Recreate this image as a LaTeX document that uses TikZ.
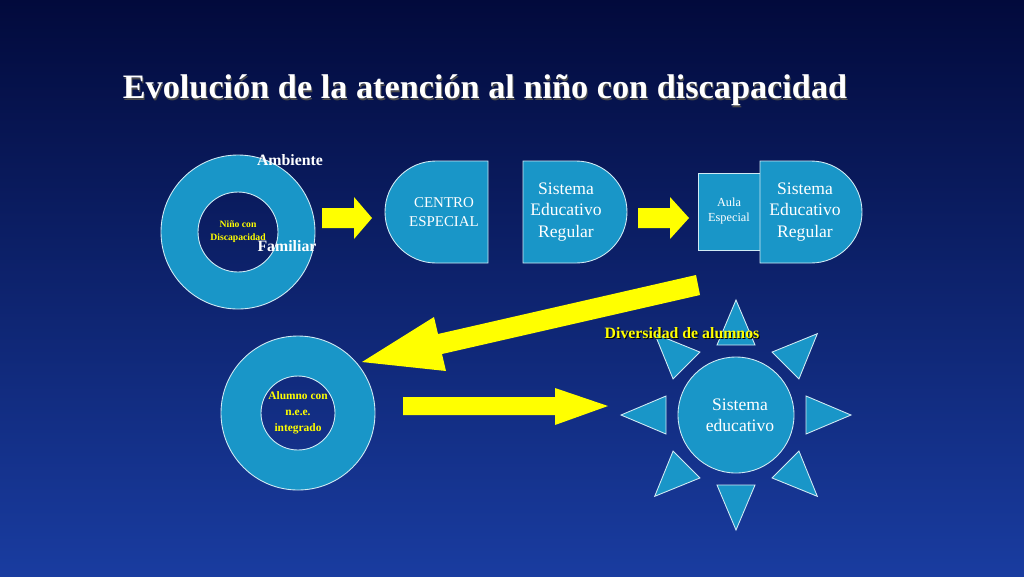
\documentclass[tikz,border=0pt]{standalone}
\usepackage{fontspec}
\setmainfont{Liberation Serif}
\usetikzlibrary{positioning,calc}
\definecolor{bgtop}{RGB}{2,10,60}
\definecolor{bgbot}{RGB}{25,60,160}
\definecolor{cyanbox}{RGB}{25,150,200}
\definecolor{yarrow}{RGB}{255,255,0}
\begin{document}
\begin{tikzpicture}[x=0.02cm,y=-0.02cm,
	shapebox/.style={fill=cyanbox, draw=white!80!cyanbox, line width=0.5pt},
	arrowfill/.style={fill=yarrow},
	boxtext/.style={text=white, align=center, font=\fontsize{10}{12}\selectfont},
	smalltext/.style={text=yarrow, align=center, font=\fontsize{5.5}{7.5}\selectfont\bfseries},
	labeltext/.style={text=white, font=\fontsize{9}{10}\selectfont\bfseries}]
	\shade[top color=bgtop, bottom color=bgbot] (0,0) rectangle (1024,576);
	\useasboundingbox (0,0) rectangle (1024,576);
	% title
	\node[text=black!70, font=\fontsize{19.5}{22}\selectfont\bfseries] at (486,92) {Evolución de la atención al niño con discapacidad};
	\node[text=white, font=\fontsize{19.5}{22}\selectfont\bfseries] (title) at (485,90) {Evolución de la atención al niño con discapacidad};
	% first ring
	\fill[cyanbox, even odd rule] (238,232) circle (77) (238,232) circle (40);
	\draw[white!80!cyanbox, line width=0.5pt] (238,232) circle (77) (238,232) circle (40);
	\node[smalltext] (nino) at (238,232) {Niño con\\Discapacidad};
	\node[labeltext] (ambiente) at (290,160) {Ambiente};
	\node[labeltext] (familiar) at (287,246) {Familiar};
	% arrows
	\fill[arrowfill] (322,208) -- (354,208) -- (354,197) -- (372,218) -- (354,239) -- (354,228) -- (322,228) -- cycle;
	\fill[arrowfill] (638,208) -- (670,208) -- (670,197) -- (689,218) -- (670,239) -- (670,228) -- (638,228) -- cycle;
	% centro especial
	\draw[shapebox] (488,161) -- (488,263) -- (436,263) arc (90:270:51) -- cycle;
	\node[boxtext, font=\fontsize{8.5}{10.5}\selectfont] (centro) at (444,212) {CENTRO\\ESPECIAL};
	% sistema educativo regular
	\draw[shapebox] (523,161) -- (576,161) arc (-90:90:51) -- (523,263) -- cycle;
	\node[boxtext] (regular) at (566,212) {Sistema\\Educativo\\Regular};
	% aula especial + sistema
	\draw[shapebox] (698,173) rectangle (760,250);
	\node[boxtext, font=\fontsize{7}{9}\selectfont] (aula) at (729,211) {Aula\\Especial};
	\draw[shapebox] (760,161) -- (811,161) arc (-90:90:51) -- (760,263) -- cycle;
	\node[boxtext] (regular2) at (805,212) {Sistema\\Educativo\\Regular};
	% diagonal arrow
	\fill[arrowfill] (700,295) -- (442,354) -- (446,371) -- (362,362) -- (434,317) -- (438,334) -- (696,275) -- cycle;
	% second ring
	\fill[cyanbox, even odd rule] (298,413) circle (77) (298,413) circle (37);
	\draw[white!80!cyanbox, line width=0.5pt] (298,413) circle (77) (298,413) circle (37);
	\node[smalltext, font=\fontsize{6.5}{9}\selectfont\bfseries] (alumno) at (298,413) {Alumno con\\n.e.e.\\integrado};
	\fill[arrowfill] (403,397) -- (555,397) -- (555,388) -- (608,406) -- (555,425) -- (555,415) -- (403,415) -- cycle;
	% sun
	\foreach \a in {0,45,...,315}
		\draw[shapebox] ($(736,415)+(\a:115)$) -- ($(736,415)+(\a:70)+(\a+90:19)$) -- ($(736,415)+(\a:70)+(\a-90:19)$) -- cycle;
	\draw[shapebox] (736,415) circle (58);
	\node[boxtext] (sistema) at (740,415) {Sistema\\educativo};
	\node[text=black, font=\fontsize{9}{10}\selectfont\bfseries] at (683,334) {Diversidad de alumnos};
	\node[text=yarrow, font=\fontsize{9}{10}\selectfont\bfseries] (diversidad) at (682,333) {Diversidad de alumnos};
\end{tikzpicture}
\end{document}
